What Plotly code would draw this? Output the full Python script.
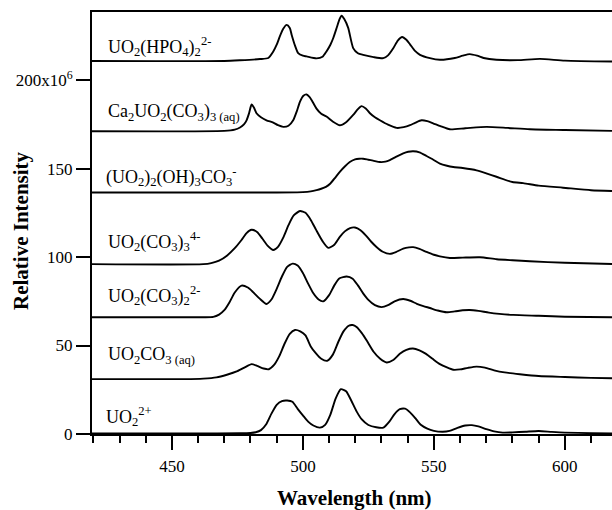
import plotly.graph_objects as go

# ---------------- data (intensity in units of 1e6) ----------------
wl_uo2 = [419, 460, 476, 480, 482, 484, 486, 488, 490, 492, 494, 496, 498, 500, 502, 504, 506.5, 508.5,
          510.5, 512.5, 514.5, 516.5, 518.5, 520.5, 522.5, 525, 528, 530.7, 533, 535, 537, 539, 541, 543,
          545, 547.5, 550, 553.4, 556, 559, 562, 564.5, 567, 570, 573, 576.3, 580, 585, 590, 595, 600,
          610, 618]
val_uo2 = [0.3, 0.3, 0.4, 0.6, 1.0, 2.2, 5.5, 11.5, 16.5, 18.6, 18.9, 18.2, 14.2, 10.5, 7, 4.8, 3.6, 5.2,
           11, 20, 25.3, 24.2, 18.8, 12.8, 8.2, 5.1, 3.8, 3.6, 7.0, 11.3, 14.0, 14.3, 12.1, 8.8,
           5.2, 3.0, 1.8, 1.3, 1.8, 3.5, 4.8, 5.0, 4.3, 2.8, 1.5, 0.8, 0.9, 1.3, 1.7, 1.2, 0.8,
           0.5, 0.3]

wl_uo2co3 = [419, 455, 462, 467, 471, 475, 478, 480.4, 482.5, 485, 487, 489, 491, 493, 495, 497, 499, 501,
             503, 505, 507, 509.3, 511.5, 513.5, 515.5, 517.5, 519, 520.5, 522.5, 524.5, 527, 529.5, 532,
             534.5, 537, 539.5, 542, 544.5, 547, 549.5, 552.3, 555, 557.4, 560, 563, 566.3, 569.5, 573,
             577, 582.8, 590, 600, 610, 618]
val_uo2co3 = [31, 31, 31.3, 32, 33.5, 35.5, 37.8, 39.5, 38.5, 37, 36.6, 39, 44, 51, 56.6, 58.8, 58, 55.7,
              49.5, 45.5, 42.5, 41.4, 45, 52, 58, 61.2, 61.6, 60.5, 57, 52.5, 46.5, 42.5, 40.4,
              41.8, 45.3, 47.5, 48.3, 47.3, 45.3, 42.5, 39.5, 37.6, 36.3, 36.5, 37.4, 38.1, 37.5, 36,
              34.8, 33.8, 32.8, 32.2, 31.7, 31.5]

wl_co3_2 = [419, 462, 465.8, 468, 470, 472, 474, 476.6, 479, 481, 483.5, 486.1, 488, 490, 492, 494, 496.1,
            498, 500, 502, 504, 506, 507.8, 510, 512, 514, 516.7, 519, 521, 523, 525, 527.5, 530, 532.5,
            535, 538.3, 541, 543.5, 546, 548.5, 551.5, 554.9, 558, 561, 563.7, 567, 571, 575, 580.3, 590,
            600, 618]
val_co3_2 = [66, 66, 66.2, 67.5, 70, 74.5, 80, 83.9, 82.8, 80.2, 76.5, 73.5, 76, 82, 89, 94.5, 96.3,
             95.2, 91, 85, 79.5, 76, 75, 78.5, 84, 88, 89, 87.8, 84, 79.5, 75.8, 72.8, 71.7, 72.8,
             75, 76.3, 75.3, 73.6, 72.3, 71.2, 69.8, 68.8, 69.3, 69.9, 70.1, 69.6, 68.6, 67.9, 67.3, 66.8,
             66.3, 66]

wl_co3_3 = [419, 462, 465, 468, 471, 474, 476.5, 478.5, 480.4, 482.5, 484.5, 486.5, 488.7, 490.5, 492.5,
            494.5, 496.5, 498.9, 501, 503, 505, 507.5, 509.7, 512, 514.1, 516, 518, 519.9, 522, 524, 526,
            528.1, 530.5, 533.2, 535.5, 538.3, 540.5, 542.1, 544.5, 547.2, 550, 552.3, 556.1, 561, 567.6,
            574, 580, 586.6, 600, 618]
val_co3_3 = [96, 96, 96.6, 98, 100.8, 105, 109.5, 113.5, 115.4, 114.2, 110.5, 106.5, 104, 105.8, 111,
             118, 123.5, 126, 125, 121, 115.5, 109, 105.2, 107, 111.4, 114.5, 116.4, 116.7, 115.2, 112.3, 108.8,
             105.7, 103, 101.8, 102.8, 104.8, 105.5, 105.6, 104.6, 102.9, 101.3, 100.4, 99.5, 99.7, 99.9,
             98.8, 98.2, 97.6, 96.8, 96.1]

wl_oh = [419, 490, 500, 503, 505.2, 507, 508.8, 510.5, 512.3, 514.1, 516, 517.9, 519.9, 521.5, 523, 525,
         526.8, 529.4, 531.5, 533.2, 535.5, 538.3, 540.2, 542.1, 544.5, 547.2, 549.8, 552.3, 555, 557.4,
         561, 566.3, 570, 573.9, 580, 584.1, 590, 599.3, 610, 618]
val_oh = [136.5, 136.5, 136.7, 137.1, 137.8, 138.6, 139.7, 141.6, 144.8, 148.2, 151.2, 153.7, 155.2, 155.6, 155.6, 155,
          154.5, 153.7, 153.9, 154.8, 156.6, 158.6, 159.5, 159.8, 159.2, 157.1, 155, 152.8, 151.6, 150.9,
          150.3, 149, 147.3, 145.4, 142.4, 141.8, 140.4, 139.2, 137.8, 137.3]

wl_ca = [419, 470, 474, 476, 477.5, 478.5, 479.5, 480.4, 481.3, 482.3, 484, 486.1, 488.7, 490.5, 492.5,
         494.5, 496.3, 497.7, 498.9, 500.2, 501.4, 502.5, 503.3, 505.2, 507, 509, 511.5, 514.1, 516.5,
         519.2, 521, 522.4, 524, 525.6, 527.5, 529.4, 532.5, 535.8, 538.5, 540.9, 543, 545.3, 547.5,
         549.7, 552.5, 556.1, 562, 570.1, 578, 586.6, 600, 618]
val_ca = [171.1, 171.3, 172, 173.2, 175, 177.3, 181.5, 186.2, 184.5, 181.3, 179, 177.3, 176, 174.5, 173.6,
          174.2, 177.3, 182.5, 187.9, 191.2, 191.9, 190.5, 188.8, 183.9, 181, 179.4, 176.5, 174.5, 176.2,
          180.3, 183.6, 185.3, 184, 181.3, 179, 177.3, 174.8, 173, 173.4, 174.5, 176, 177.3, 176.8,
          175.6, 174, 172.2, 172.8, 173.6, 173, 172.2, 171.8, 171.3]

wl_hpo4 = [419, 470, 476, 483.6, 486.8, 488.7, 490, 491.2, 492.5, 493.8, 495, 495.7, 497, 498.2, 500,
           501.4, 505.2, 507.5, 509, 510.5, 511.6, 513, 514, 514.8, 515.8, 517.3, 519.2, 521, 523, 527,
           530.7, 532.5, 534.5, 536.3, 537.9, 539.5, 540.9, 542.8, 544.7, 548.5, 552.3, 558, 561, 563.7,
           566.5, 569, 573.9, 582, 590.5, 600, 618]
val_hpo4 = [210.8, 210.8, 211.2, 211.9, 212.5, 216.2, 220, 224.7, 229, 231.2, 229.5, 225.7, 219.5, 215.3, 213.8,
            213.4, 212.3, 213.2, 216.2, 220, 223.8, 230, 234.5, 236.4, 234.5, 229.5, 218.1, 215.2, 214.3, 213,
            212.4, 214, 218, 222.5, 224.4, 222.8, 220.2, 216.5, 214.3, 212.4, 211.5, 212.5, 213.8, 214.7,
            213.8, 212.5, 211.5, 211.3, 212, 211, 210.5]

series = [
    (wl_uo2, val_uo2),
    (wl_uo2co3, val_uo2co3),
    (wl_co3_2, val_co3_2),
    (wl_co3_3, val_co3_3),
    (wl_oh, val_oh),
    (wl_ca, val_ca),
    (wl_hpo4, val_hpo4),
]

labels = [
    "UO<sub>2</sub><sup>2+</sup>",
    "UO<sub>2</sub>CO<sub>3 (aq)</sub>",
    "UO<sub>2</sub>(CO<sub>3</sub>)<sub>2</sub><sup>2-</sup>",
    "UO<sub>2</sub>(CO<sub>3</sub>)<sub>3</sub><sup>4-</sup>",
    "(UO<sub>2</sub>)<sub>2</sub>(OH)<sub>3</sub>CO<sub>3</sub><sup>-</sup>",
    "Ca<sub>2</sub>UO<sub>2</sub>(CO<sub>3</sub>)<sub>3 (aq)</sub>",
    "UO<sub>2</sub>(HPO<sub>4</sub>)<sub>2</sub><sup>2-</sup>",
]

y_tickvals = [0, 50, 100, 150, 200]
y_ticktext = ["0", "50", "100", "150", "200x10<sup>6</sup>"]
x_tickvals = [450, 500, 550, 600]

# ---------------- layout geometry ----------------
W, H = 612, 510
ML, MR, MT, MB = 92, 0, 12, 76
PW, PH = W - ML - MR, H - MT - MB

def px(xp):
    return (xp - ML) / PW

def py(yp):
    return (H - MB - yp) / PH

FONT = "Liberation Serif, Times New Roman, serif"

fig = go.Figure()
for wl, val in series:
    fig.add_trace(go.Scatter(x=wl, y=val, mode="lines",
                             line=dict(color="black", width=1.9, shape="spline", smoothing=0.6),
                             showlegend=False, hoverinfo="skip"))

label_pos = [(104, 416.7), (106, 355.3), (106, 295), (106, 241.5), (104, 176), (106, 113), (106, 46.3)]
annotations = []
for txt, (xp, yp) in zip(labels, label_pos):
    annotations.append(dict(text=txt, xref="paper", yref="paper", x=px(xp), y=py(yp),
                            xanchor="left", yanchor="middle", showarrow=False,
                            font=dict(family=FONT, size=18, color="black")))

annotations.append(dict(text="<b>Relative Intensity</b>", xref="paper", yref="paper",
                        x=px(21), y=py(231), xanchor="center", yanchor="middle", textangle=-90,
                        showarrow=False, font=dict(family=FONT, size=21, color="black")))
annotations.append(dict(text="<b>Wavelength (nm)</b>", xref="paper", yref="paper",
                        x=px(354), y=py(498), xanchor="center", yanchor="middle",
                        showarrow=False, font=dict(family=FONT, size=21, color="black")))

fig.update_layout(
    width=W, height=H,
    margin=dict(l=ML, r=MR, t=MT, b=MB, pad=0),
    paper_bgcolor="white", plot_bgcolor="white",
    font=dict(family=FONT, color="black"),
    annotations=annotations,
    xaxis=dict(range=[419.5, 618], showgrid=False, zeroline=False,
               showline=True, linecolor="black", linewidth=2, mirror=True,
               tickvals=x_tickvals, ticks="outside", ticklen=14, tickwidth=1.5, tickcolor="black",
               ticklabelstandoff=2,
               tickfont=dict(family=FONT, size=17, color="black"),
               minor=dict(dtick=10, tick0=400, ticks="outside", ticklen=7, tickwidth=1.5, tickcolor="black",
                          showgrid=False)),
    yaxis=dict(range=[0, 238.5], showgrid=False, zeroline=False,
               showline=True, linecolor="black", linewidth=2,
               tickvals=y_tickvals, ticktext=y_ticktext, ticks="outside", ticklen=14, tickwidth=1.5,
               tickcolor="black", ticklabelstandoff=0,
               tickfont=dict(family=FONT, size=17, color="black")),
)

fig.write_html("out.html", config={"displayModeBar": False},
               post_script="document.body.style.margin='0px';document.body.style.overflow='hidden';")
